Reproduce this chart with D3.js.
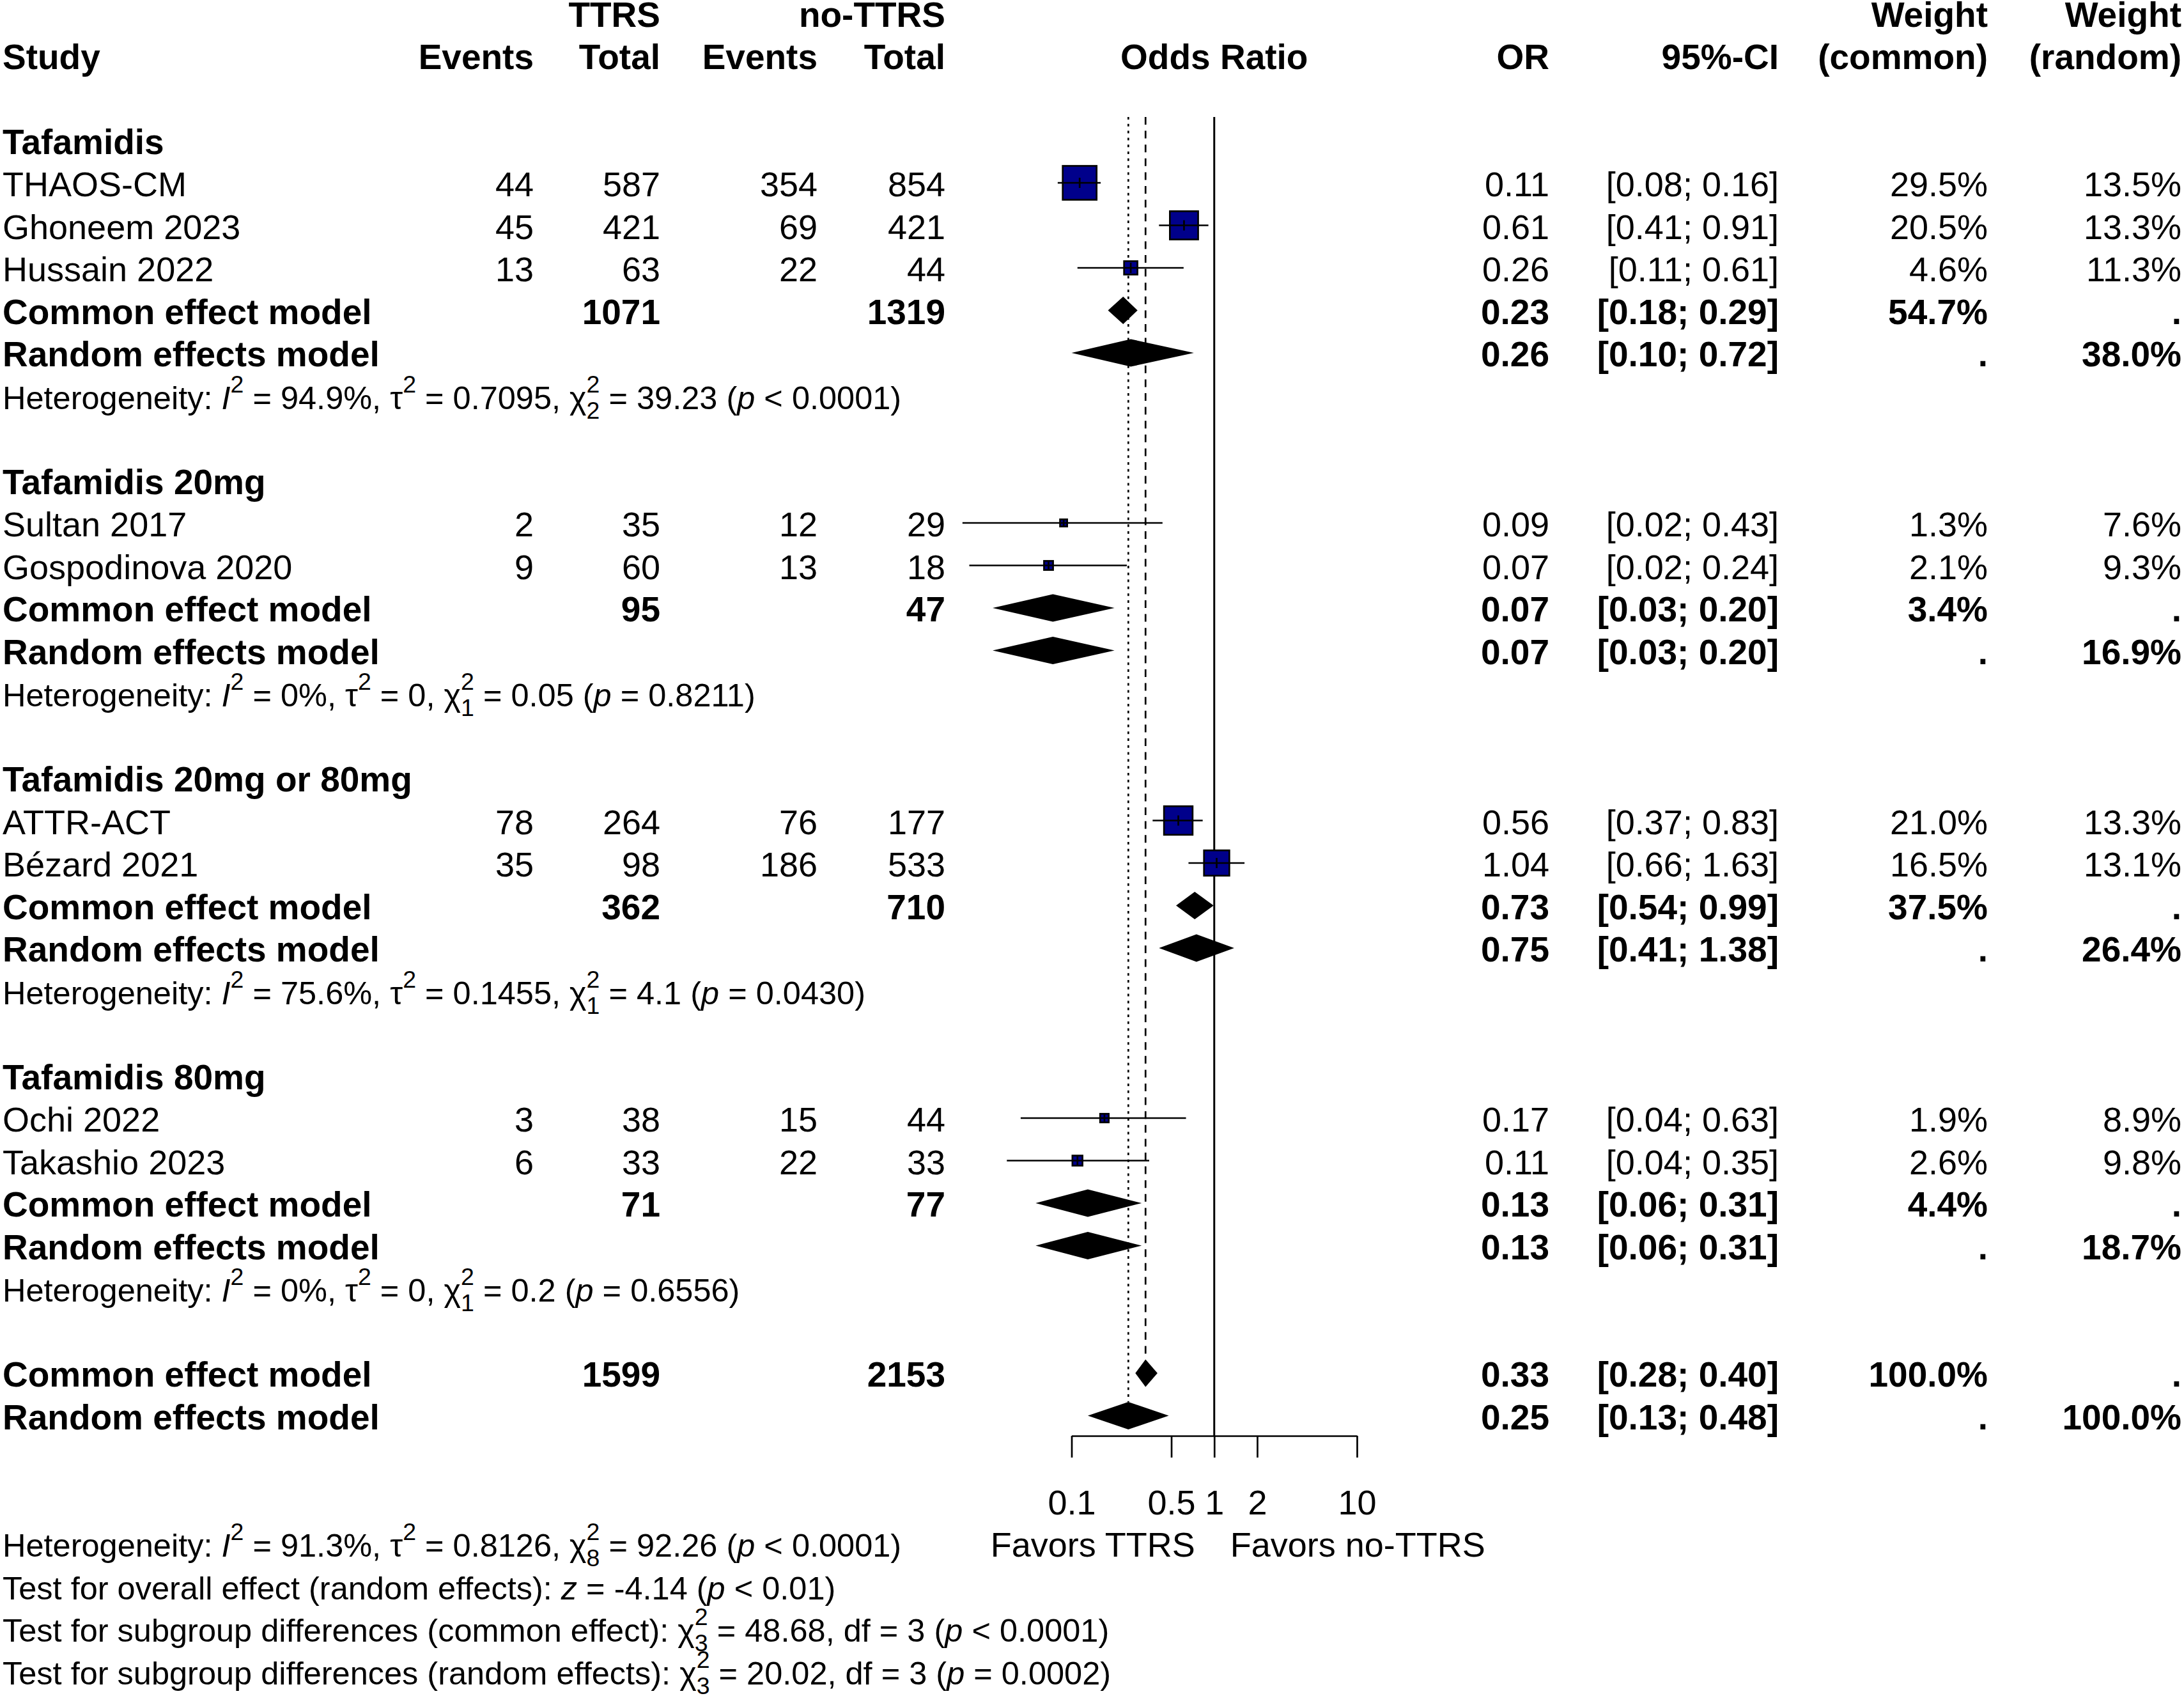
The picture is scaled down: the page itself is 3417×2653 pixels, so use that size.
<!DOCTYPE html>
<html>
<head>
<meta charset="utf-8">
<title>Forest plot - TTRS vs no-TTRS</title>
<script src="https://cdn.jsdelivr.net/npm/d3@7"></script>
<style>
    body { margin: 0; background: #fff; }
    svg text { font-family: "Liberation Sans", Arial, sans-serif; fill: #000; }
</style>
</head>
<body>
<svg id="chart" width="3417" height="2653"></svg>
<script>
// ---- data ----
const subgroups = ["Tafamidis", "Tafamidis 20mg", "Tafamidis 20mg or 80mg", "Tafamidis 80mg"];

const studies    = ["THAOS-CM", "Ghoneem 2023", "Hussain 2022", "Sultan 2017", "Gospodinova 2020",
                    "ATTR-ACT", "Bézard 2021", "Ochi 2022", "Takashio 2023"];
const studyGroup = [0, 0, 0, 1, 1, 2, 2, 3, 3];
const eventsTTRS = [44, 45, 13, 2, 9, 78, 35, 3, 6];
const totalTTRS  = [587, 421, 63, 35, 60, 264, 98, 38, 33];
const eventsNo   = [354, 69, 22, 12, 13, 76, 186, 15, 22];
const totalNo    = [854, 421, 44, 29, 18, 177, 533, 44, 33];
const studyOR    = [0.114, 0.614, 0.26, 0.088, 0.069, 0.56, 1.04, 0.17, 0.11];
const studyLo    = [0.08, 0.41, 0.11, 0.0172, 0.0192, 0.37, 0.66, 0.044, 0.0352];
const studyHi    = [0.16, 0.91, 0.61, 0.434, 0.244, 0.83, 1.63, 0.634, 0.35];
const wCommon    = [29.5, 20.5, 4.6, 1.3, 2.1, 21.0, 16.5, 1.9, 2.6];
const wRandom    = [13.5, 13.3, 11.3, 7.6, 9.3, 13.3, 13.1, 8.9, 9.8];

// subgroup pooled results
const sgTotTTRS  = [1071, 95, 362, 71];
const sgTotNo    = [1319, 47, 710, 77];
const sgComOR    = [0.23, 0.074, 0.73, 0.13];
const sgComLo    = [0.18, 0.028, 0.54, 0.056];
const sgComHi    = [0.29, 0.20, 0.99, 0.31];
const sgRanOR    = [0.26, 0.074, 0.75, 0.13];
const sgRanLo    = [0.10, 0.028, 0.41, 0.056];
const sgRanHi    = [0.72, 0.20, 1.38, 0.31];
const sgComW     = [54.7, 3.4, 37.5, 4.4];
const sgRanW     = [38.0, 16.9, 26.4, 18.7];
const sgI2       = ["94.9%", "0%", "75.6%", "0%"];
const sgTau2     = ["0.7095", "0", "0.1455", "0"];
const sgDf       = ["2", "1", "1", "1"];
const sgQ        = ["39.23", "0.05", "4.1", "0.2"];
const sgP        = ["< 0.0001", "= 0.8211", "= 0.0430", "= 0.6556"];

// overall
const allTot     = [1599, 2153];
const allCom     = [0.33, 0.28, 0.40];
const allRan     = [0.25, 0.13, 0.48];
const allHet     = ["91.3%", "0.8126", "8", "92.26", "< 0.0001"];
const overallZ   = ["-4.14", "< 0.01"];
const subgrpCom  = ["3", "48.68", "3", "< 0.0001"];
const subgrpRan  = ["3", "20.02", "3", "= 0.0002"];

const axisTicks  = [0.1, 0.5, 1, 2, 10];

// ---- layout ----
const svg = d3.select("#chart");
const FS = 54, FS_BOLD = 55, FS_HET = 50.5, FS_SUP = 37.5;
const LW = 2.7;
const rowY = k => 240.5 + 66.5 * k;   // text baseline of row k
const mid = k => rowY(k) - 21;         // vertical centre of a mark
const col = { study: 4, evT: 835, totT: 1033, evC: 1279, totC: 1479,
              or: 2424, ci: 2783, wC: 3110, wR: 3413 };

const x = d3.scaleLog().domain([0.1, 10]).range([1676.5, 2123]);
const boxSize = d3.scaleSqrt().domain([0, 29.5]).range([0, 53]);
const f2 = v => v.toFixed(2);
const ciText = (lo, hi) => `[${f2(lo)}; ${f2(hi)}]`;
const pct = v => v.toFixed(1) + "%";

const gLines = svg.append("g");
const gMarks = svg.append("g");
const gText = svg.append("g");

function txt(xp, y, s, anchor, bold) {
    return gText.append("text")
        .attr("x", xp).attr("y", y)
        .attr("text-anchor", anchor || "start")
        .attr("font-weight", bold ? "bold" : null)
        .attr("font-size", bold ? FS_BOLD : FS)
        .text(s);
}

// line of text with italics and stacked super/subscripts
function rich(x0, y0, segs) {
    const t = gText.append("text").attr("x", x0).attr("y", y0).attr("font-size", FS_HET);
    let off = 0;
    segs.forEach(s => {
        if (typeof s === "string") {
            t.append("tspan").attr("dy", -off).text(s); off = 0;
        } else if (s.i) {
            t.append("tspan").attr("dy", -off).attr("font-style", "italic").text(s.i); off = 0;
        } else {
            t.append("tspan").attr("font-size", FS_SUP).attr("dy", -26 - off).text(s.sup); off = -26;
            if (s.sub) {
                t.append("tspan").attr("font-size", FS_SUP)
                    .attr("dx", -0.556 * FS_SUP).attr("dy", 15 - off).text(s.sub);
                off = 15;
            }
        }
    });
}

function hetSegs(i2, tau2, df, q, p) {
    return ["Heterogeneity: ", {i: "I"}, {sup: "2"}, ` = ${i2}, `, "τ", {sup: "2"}, ` = ${tau2}, `,
            "χ", {sup: "2", sub: df}, ` = ${q} (`, {i: "p"}, ` ${p})`];
}

function diamond(k, est, lo, hi) {
    const c = mid(k), h = 21.5;
    gMarks.append("path")
        .attr("d", `M${x(lo)},${c}L${x(est)},${c - h}L${x(hi)},${c}L${x(est)},${c + h}Z`)
        .attr("fill", "#000");
}

// header
txt(col.totT, rowY(-3) + 1, "TTRS", "end", true);
txt(col.totC, rowY(-3) + 1, "no-TTRS", "end", true);
txt(col.wC, rowY(-3) + 1, "Weight", "end", true);
txt(col.wR, rowY(-3) + 1, "Weight", "end", true);
txt(col.study, rowY(-2), "Study", "start", true);
txt(col.evT, rowY(-2), "Events", "end", true);
txt(col.totT, rowY(-2), "Total", "end", true);
txt(col.evC, rowY(-2), "Events", "end", true);
txt(col.totC, rowY(-2), "Total", "end", true);
txt(x(1), rowY(-2), "Odds Ratio", "middle", true);
txt(col.or, rowY(-2), "OR", "end", true);
txt(col.ci, rowY(-2), "95%-CI", "end", true);
txt(col.wC, rowY(-2), "(common)", "end", true);
txt(col.wR, rowY(-2), "(random)", "end", true);

// body rows
let k = 0;
subgroups.forEach((name, g) => {
    txt(col.study, rowY(k), name, "start", true);
    k++;
    studies.forEach((s, i) => {
        if (studyGroup[i] !== g) return;
        const y = rowY(k);
        txt(col.study, y, s);
        txt(col.evT, y, eventsTTRS[i], "end");
        txt(col.totT, y, totalTTRS[i], "end");
        txt(col.evC, y, eventsNo[i], "end");
        txt(col.totC, y, totalNo[i], "end");
        txt(col.or, y, f2(studyOR[i]), "end");
        txt(col.ci, y, ciText(studyLo[i], studyHi[i]), "end");
        txt(col.wC, y, pct(wCommon[i]), "end");
        txt(col.wR, y, pct(wRandom[i]), "end");

        const c = mid(k), sz = boxSize(wCommon[i]), cx = x(studyOR[i]);
        gMarks.append("rect")
            .attr("x", cx - sz / 2).attr("y", c - sz / 2)
            .attr("width", sz).attr("height", sz)
            .attr("fill", "#00008b").attr("stroke", "#000").attr("stroke-width", LW);
        gMarks.append("line")
            .attr("x1", x(studyLo[i])).attr("x2", x(studyHi[i]))
            .attr("y1", c).attr("y2", c)
            .attr("stroke", "#000").attr("stroke-width", LW);
        const th = Math.min(16, sz) / 2;
        gMarks.append("line")
            .attr("x1", cx).attr("x2", cx).attr("y1", c - th).attr("y2", c + th)
            .attr("stroke", "#000").attr("stroke-width", LW);
        k++;
    });
    // common effect
    let y = rowY(k);
    txt(col.study, y, "Common effect model", "start", true);
    txt(col.totT, y, sgTotTTRS[g], "end", true);
    txt(col.totC, y, sgTotNo[g], "end", true);
    txt(col.or, y, f2(sgComOR[g]), "end", true);
    txt(col.ci, y, ciText(sgComLo[g], sgComHi[g]), "end", true);
    txt(col.wC, y, pct(sgComW[g]), "end", true);
    txt(col.wR, y, ".", "end", true);
    diamond(k, sgComOR[g], sgComLo[g], sgComHi[g]);
    k++;
    // random effects
    y = rowY(k);
    txt(col.study, y, "Random effects model", "start", true);
    txt(col.or, y, f2(sgRanOR[g]), "end", true);
    txt(col.ci, y, ciText(sgRanLo[g], sgRanHi[g]), "end", true);
    txt(col.wC, y, ".", "end", true);
    txt(col.wR, y, pct(sgRanW[g]), "end", true);
    diamond(k, sgRanOR[g], sgRanLo[g], sgRanHi[g]);
    k++;
    rich(col.study, rowY(k), hetSegs(sgI2[g], sgTau2[g], sgDf[g], sgQ[g], sgP[g]));
    k += 2;
});

// overall
const kCom = k, kRan = k + 1;
txt(col.study, rowY(kCom), "Common effect model", "start", true);
txt(col.totT, rowY(kCom), allTot[0], "end", true);
txt(col.totC, rowY(kCom), allTot[1], "end", true);
txt(col.or, rowY(kCom), f2(allCom[0]), "end", true);
txt(col.ci, rowY(kCom), ciText(allCom[1], allCom[2]), "end", true);
txt(col.wC, rowY(kCom), "100.0%", "end", true);
txt(col.wR, rowY(kCom), ".", "end", true);
diamond(kCom, allCom[0], allCom[1], allCom[2]);

txt(col.study, rowY(kRan), "Random effects model", "start", true);
txt(col.or, rowY(kRan), f2(allRan[0]), "end", true);
txt(col.ci, rowY(kRan), ciText(allRan[1], allRan[2]), "end", true);
txt(col.wC, rowY(kRan), ".", "end", true);
txt(col.wR, rowY(kRan), "100.0%", "end", true);
diamond(kRan, allRan[0], allRan[1], allRan[2]);

// reference lines
const lineTop = 183, axisY = rowY(kRan) + 10.5;
gLines.append("line").attr("x1", x(1)).attr("x2", x(1)).attr("y1", lineTop).attr("y2", axisY)
    .attr("stroke", "#000").attr("stroke-width", 3);
gLines.append("line").attr("x1", x(allCom[0])).attr("x2", x(allCom[0]))
    .attr("y1", lineTop).attr("y2", mid(kCom) - 21.5)
    .attr("stroke", "#000").attr("stroke-width", LW).attr("stroke-dasharray", "12,9.6");
gLines.append("line").attr("x1", x(allRan[0])).attr("x2", x(allRan[0]))
    .attr("y1", lineTop).attr("y2", mid(kRan) - 21.5)
    .attr("stroke", "#000").attr("stroke-width", LW).attr("stroke-dasharray", "4,6.8");

// axis
const ax = svg.append("g").attr("transform", `translate(0,${axisY})`)
    .call(d3.axisBottom(x).tickValues(axisTicks).tickFormat(d => String(d))
        .tickSize(34).tickSizeOuter(0));
ax.select(".domain").attr("stroke", "#000").attr("stroke-width", LW);
ax.selectAll(".tick line").attr("stroke", "#000").attr("stroke-width", LW);
ax.selectAll(".tick text").attr("y", rowY(kRan + 2) - axisY).attr("dy", null)
    .attr("font-size", FS).attr("font-family", null).attr("fill", "#000");

txt(x(1) - 30, rowY(kRan + 3), "Favors TTRS", "end");
txt(x(1) + 25, rowY(kRan + 3), "Favors no-TTRS", "start");

// bottom statistics
rich(col.study, rowY(kRan + 3), hetSegs(allHet[0], allHet[1], allHet[2], allHet[3], allHet[4]));
rich(col.study, rowY(kRan + 4), ["Test for overall effect (random effects): ", {i: "z"},
    ` = ${overallZ[0]} (`, {i: "p"}, ` ${overallZ[1]})`]);
rich(col.study, rowY(kRan + 5), ["Test for subgroup differences (common effect): ", "χ",
    {sup: "2", sub: subgrpCom[0]}, ` = ${subgrpCom[1]}, df = ${subgrpCom[2]} (`, {i: "p"}, ` ${subgrpCom[3]})`]);
rich(col.study, rowY(kRan + 6), ["Test for subgroup differences (random effects): ", "χ",
    {sup: "2", sub: subgrpRan[0]}, ` = ${subgrpRan[1]}, df = ${subgrpRan[2]} (`, {i: "p"}, ` ${subgrpRan[3]})`]);
</script>
</body>
</html>
